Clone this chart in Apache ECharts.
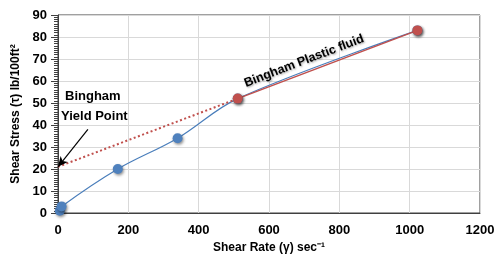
<!DOCTYPE html>
<html>
<head>
<meta charset="utf-8">
<script src="https://cdn.jsdelivr.net/npm/echarts@6/dist/echarts.min.js"></script>
<style>
	html, body { margin: 0; padding: 0; background: #fff; }
	#chart { width: 500px; height: 277px; }
</style>
</head>
<body>
<div id="chart"></div>
<script>
	// measured data (Fann readings)
	var shearRate = [5.1, 10.2, 170, 340, 511, 1022];
	var shearStress = [1, 3, 20, 34, 52, 83];
	// Bingham plastic fit through 300 and 600 rpm points
	var binghamRate = [511, 1022];
	var binghamStress = [52, 83];
	var yieldPoint = 21;
	// arrow tail for the yield point note
	var arrowFrom = [85, 38];
	var xTicks = { min: 0, max: 1200, interval: 200 };
	var yTicks = { min: 0, max: 90, interval: 10 };

	function pairs(xs, ys) {
		return xs.map(function (x, i) { return [x, ys[i]]; });
	}

	var font = '"Liberation Sans", Arial, sans-serif';
	var shadow = {
		shadowBlur: 3,
		shadowColor: 'rgba(0,0,0,0.45)',
		shadowOffsetX: 1,
		shadowOffsetY: 1.5
	};

	var chart = echarts.init(document.getElementById('chart'));
	var option = {
		animation: false,
		grid: {
			left: 58, right: 20, top: 15, bottom: 64,
			show: true, borderColor: '#404040', borderWidth: 1
		},
		xAxis: {
			type: 'value',
			min: xTicks.min, max: xTicks.max, interval: xTicks.interval,
			name: 'Shear Rate (γ) sec⁻¹',
			nameLocation: 'middle',
			nameGap: 27,
			nameTextStyle: { fontFamily: font, fontWeight: 'bold', fontSize: 12, color: '#000' },
			axisLine: { lineStyle: { color: '#404040' } },
			axisTick: { show: false },
			axisLabel: {
				fontFamily: font, fontWeight: 'bold', fontSize: 13, color: '#000', margin: 11,
				formatter: function (v) { return String(v); }
			},
			splitLine: { lineStyle: { color: '#d9d9d9' } }
		},
		yAxis: {
			type: 'value',
			min: yTicks.min, max: yTicks.max, interval: yTicks.interval,
			name: 'Shear Stress (τ) lb/100ft²',
			nameLocation: 'middle',
			nameGap: 32,
			nameTextStyle: { fontFamily: font, fontWeight: 'bold', fontSize: 12, color: '#000' },
			axisLine: { show: true, lineStyle: { color: '#404040' } },
			axisTick: { show: true, length: 7, lineStyle: { color: '#404040' } },
			minorTick: { show: true, splitNumber: 10, length: 4, lineStyle: { color: '#404040' } },
			axisLabel: { fontFamily: font, fontWeight: 'bold', fontSize: 13, color: '#000', margin: 11 },
			splitLine: { lineStyle: { color: '#d9d9d9' } }
		},
		series: [
			{
				name: 'measured',
				type: 'line',
				smooth: 0.35,
				data: pairs(shearRate, shearStress),
				symbol: 'circle',
				symbolSize: 10,
				lineStyle: { color: '#4a7ebb', width: 1.2 },
				itemStyle: Object.assign({ color: '#4f81bd' }, shadow),
				z: 2
			},
			{
				name: 'extrapolation',
				type: 'line',
				data: [[0, yieldPoint], [binghamRate[0], binghamStress[0]]],
				symbol: 'none',
				lineStyle: { color: '#c0504d', width: 2, type: [2, 2.5] },
				z: 3,
				markLine: {
					silent: true,
					symbol: ['none', 'arrow'],
					symbolSize: [7, 10],
					label: { show: false },
					lineStyle: { color: '#000', width: 1.2, type: 'solid' },
					data: [[{ coord: arrowFrom }, { coord: [0, yieldPoint] }]]
				}
			},
			{
				name: 'bingham',
				type: 'line',
				data: pairs(binghamRate, binghamStress),
				symbol: 'circle',
				symbolSize: 10,
				lineStyle: { color: '#c0504d', width: 1.5 },
				itemStyle: Object.assign({ color: '#c0504d' }, shadow),
				z: 4
			}
		],
		graphic: [
			{
				type: 'text', left: 65, top: 90, z: 10,
				style: { text: 'Bingham', font: 'bold 13px ' + font, fill: '#000' }
			},
			{
				type: 'text', left: 61, top: 110, z: 10,
				style: { text: 'Yield Point', font: 'bold 13px ' + font, fill: '#000' }
			},
			{
				type: 'text', x: 304, y: 61, rotation: 21 * Math.PI / 180, z: 10,
				style: {
					text: 'Bingham Plastic fluid', font: 'bold 12.5px ' + font, fill: '#000',
					align: 'center', verticalAlign: 'middle',
					textShadowColor: 'rgba(0,0,0,0.35)', textShadowBlur: 2, textShadowOffsetX: 1, textShadowOffsetY: 1
				}
			}
		]
	};
	chart.setOption(option);
	window.addEventListener('resize', function () { chart.resize(); });
</script>
</body>
</html>
